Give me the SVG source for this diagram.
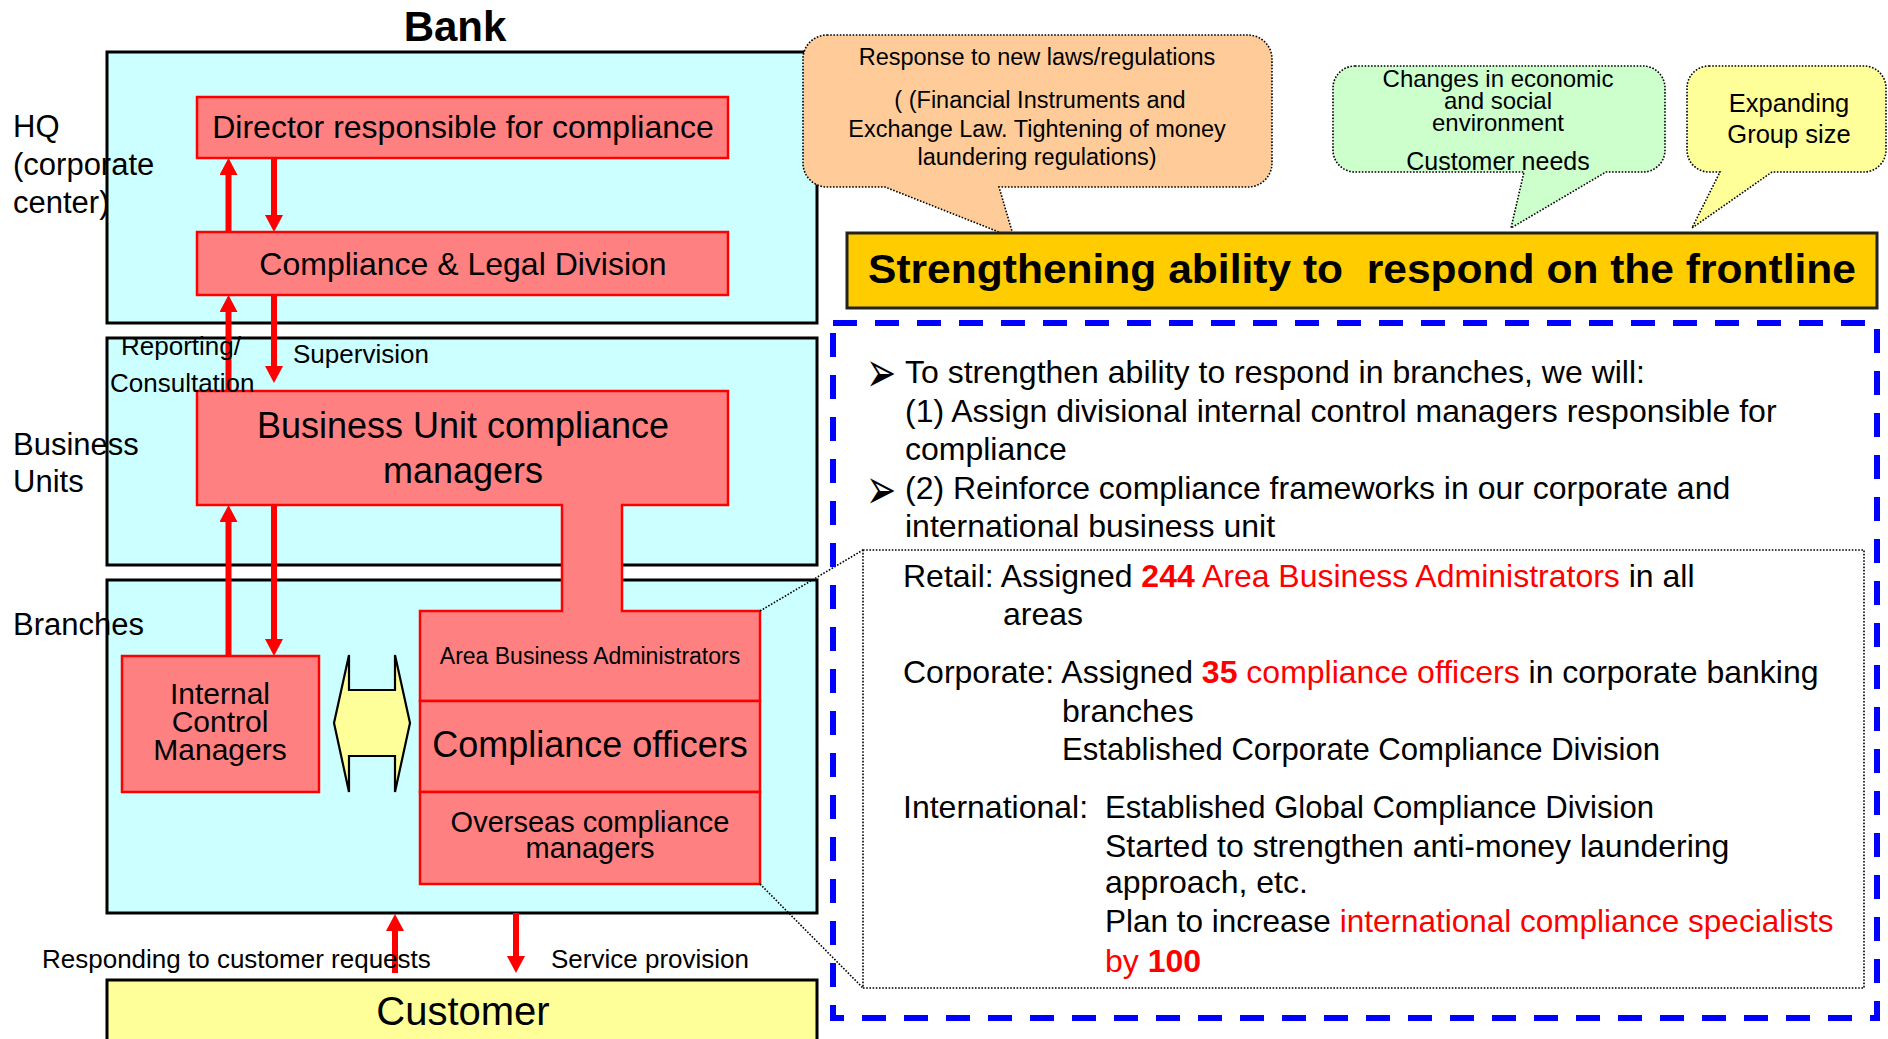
<svg xmlns="http://www.w3.org/2000/svg" width="1888" height="1039" viewBox="0 0 1888 1039">
  <defs>
    <style>
      text { font-family: "Liberation Sans", Arial, sans-serif; fill: #000; }
      .tier { fill: #CCFFFF; stroke: #000; stroke-width: 3; }
      .red { fill: #FF8080; stroke: #FF0000; stroke-width: 2.5; }
      .callout { stroke: #000; stroke-width: 1.6; stroke-dasharray: 1.6 1.6; }
      .arrow { stroke: #FF0000; stroke-width: 6; fill: none; marker-end: url(#ah); }
      .dots { stroke: #000; stroke-width: 1.6; stroke-dasharray: 1.6 1.6; fill: none; }
      .mid { text-anchor: middle; }
      .hi { fill: #FF0000; }
      .b { font-weight: bold; }
      .bullet { font-family: "DejaVu Sans", sans-serif; font-size: 36px; }
    </style>
    <marker id="ah" markerUnits="userSpaceOnUse" markerWidth="17" markerHeight="18" viewBox="0 0 17 18" refX="0" refY="9" orient="auto">
      <path d="M0,0 L17,9 L0,18 Z" fill="#FF0000"/>
    </marker>
  </defs>

  <rect width="1888" height="1039" fill="#FFFFFF"/>

  <!-- Bank tiers -->
  <text class="b mid" x="455" y="41" font-size="42">Bank</text>
  <g id="tier-hq"><rect class="tier" x="107" y="52" width="710" height="271"/></g>
  <g id="tier-bu"><rect class="tier" x="107" y="338" width="710" height="227"/></g>
  <g id="tier-branches"><rect class="tier" x="107" y="580" width="710" height="333"/></g>

  <!-- Customer -->
  <g id="customer">
    <rect x="107" y="980" width="710" height="70" fill="#FFFF99" stroke="#000" stroke-width="3"/>
    <text class="mid" x="463" y="1025" font-size="40">Customer</text>
  </g>

  <!-- HQ nodes -->
  <g id="director">
    <rect class="red" x="197" y="97" width="531" height="61"/>
    <text class="mid" x="463" y="138" font-size="32">Director responsible for compliance</text>
  </g>
  <g id="compliance-legal">
    <rect class="red" x="197" y="232" width="531" height="63"/>
    <text class="mid" x="463" y="275" font-size="32">Compliance &amp; Legal Division</text>
  </g>

  <!-- Business unit managers joined to the area administrators -->
  <g id="bu-managers">
    <path class="red" d="M197,391 H728 V505 H622 V611 H760 V701 H420 V611 H562 V505 H197 Z"/>
    <text class="mid" x="463" y="438" font-size="36">Business Unit compliance</text>
    <text class="mid" x="463" y="483" font-size="36">managers</text>
  </g>
  <g id="area-admins">
    <text class="mid" x="590" y="664" font-size="23">Area Business Administrators</text>
  </g>
  <g id="compliance-officers">
    <rect class="red" x="420" y="701" width="340" height="91"/>
    <text class="mid" x="590" y="757" font-size="36">Compliance officers</text>
  </g>
  <g id="overseas-managers">
    <rect class="red" x="420" y="792" width="340" height="92"/>
    <text class="mid" x="590" y="832" font-size="29">Overseas compliance</text>
    <text class="mid" x="590" y="858" font-size="29">managers</text>
  </g>
  <g id="internal-control">
    <rect class="red" x="122" y="656" width="197" height="136"/>
    <text class="mid" x="220" y="704" font-size="30">Internal</text>
    <text class="mid" x="220" y="732" font-size="30">Control</text>
    <text class="mid" x="220" y="760" font-size="30">Managers</text>
  </g>
  <g id="cooperation">
    <path d="M334,723 L349,655 V690 H395 V655 L410,723 L395,792 V756 H349 V792 Z" fill="#FFFF99" stroke="#000" stroke-width="2.2" stroke-linejoin="miter"/>
  </g>

  <!-- Connectors -->
  <g id="connectors">
    <line class="arrow" x1="228.5" y1="232" x2="228.5" y2="175"/>
    <line class="arrow" x1="274" y1="158" x2="274" y2="215"/>
    <line class="arrow" x1="228.5" y1="391" x2="228.5" y2="312"/>
    <line class="arrow" x1="274" y1="295" x2="274" y2="366"/>
    <line class="arrow" x1="228.5" y1="656" x2="228.5" y2="522"/>
    <line class="arrow" x1="274" y1="505" x2="274" y2="639"/>
    <line class="arrow" x1="395" y1="973" x2="395" y2="931"/>
    <line class="arrow" x1="516" y1="913" x2="516" y2="956"/>
    <line class="dots" x1="760" y1="611" x2="863" y2="550"/>
    <line class="dots" x1="760" y1="884" x2="863" y2="988"/>
  </g>

  <!-- Tier and flow labels -->
  <g id="labels" font-size="31">
    <text x="13" y="137">HQ</text>
    <text x="13" y="175">(corporate</text>
    <text x="13" y="213">center)</text>
    <text x="13" y="455">Business</text>
    <text x="13" y="492">Units</text>
    <text x="13" y="635">Branches</text>
    <text x="121" y="355" font-size="26">Reporting/</text>
    <text x="110" y="392" font-size="26">Consultation</text>
    <text x="293" y="363" font-size="26">Supervision</text>
    <text x="42" y="968" font-size="26">Responding to customer requests</text>
    <text x="551" y="968" font-size="26">Service provision</text>
  </g>

  <!-- Drivers -->
  <g id="driver-laws">
    <path class="callout" fill="#FFCC99" d="M827,35 H1248 A24,24 0 0 1 1272,59 V163 A24,24 0 0 1 1248,187 H999 L1014,238 L885,187 H827 A24,24 0 0 1 803,163 V59 A24,24 0 0 1 827,35 Z"/>
    <text class="mid" x="1037" y="65" font-size="23.5">Response to new laws/regulations</text>
    <text class="mid" x="1040" y="108" font-size="23.5">( (Financial Instruments and</text>
    <text class="mid" x="1037" y="137" font-size="23.5">Exchange Law. Tightening of money</text>
    <text class="mid" x="1037" y="165" font-size="23.5">laundering regulations)</text>
  </g>
  <g id="driver-environment">
    <path class="callout" fill="#CCFFCC" d="M1355,66 H1643 A22,22 0 0 1 1665,88 V150 A22,22 0 0 1 1643,172 H1606 L1511,228 L1524,172 H1355 A22,22 0 0 1 1333,150 V88 A22,22 0 0 1 1355,66 Z"/>
    <text class="mid" x="1498" y="87" font-size="24">Changes in economic</text>
    <text class="mid" x="1498" y="109" font-size="24">and social</text>
    <text class="mid" x="1498" y="131" font-size="24">environment</text>
    <text class="mid" x="1498" y="170" font-size="25">Customer needs</text>
  </g>
  <g id="driver-group">
    <path class="callout" fill="#FFFF99" d="M1709,66 H1864 A22,22 0 0 1 1886,88 V150 A22,22 0 0 1 1864,172 H1772 L1692,228 L1720,172 H1709 A22,22 0 0 1 1687,150 V88 A22,22 0 0 1 1709,66 Z"/>
    <text class="mid" x="1789" y="112" font-size="25.5">Expanding</text>
    <text class="mid" x="1789" y="143" font-size="25.5">Group size</text>
  </g>

  <!-- Headline -->
  <g id="headline">
    <rect x="847" y="233" width="1030" height="75" fill="#FFCC00" stroke="#222" stroke-width="3"/>
    <text class="b" x="868" y="283" font-size="40" textLength="988" lengthAdjust="spacingAndGlyphs">Strengthening ability to&#160; respond on the frontline</text>
  </g>

  <!-- Measures -->
  <g id="measures">
    <rect x="833" y="323" width="1044" height="695" fill="none" stroke="#0000FF" stroke-width="6" stroke-dasharray="24 18"/>
    <text class="bullet" transform="translate(866 392) scale(1 1.6)">➢</text>
    <text x="905" y="383" font-size="32">To strengthen ability to respond in branches, we will:</text>
    <text x="905" y="422" font-size="32">(1) Assign divisional internal control managers responsible for</text>
    <text x="905" y="460" font-size="32">compliance</text>
    <text class="bullet" transform="translate(866 509) scale(1 1.6)">➢</text>
    <text x="905" y="499" font-size="32">(2) Reinforce compliance frameworks in our corporate and</text>
    <text x="905" y="537" font-size="32">international business unit</text>
  </g>
  <g id="results" font-size="32">
    <rect x="863" y="550" width="1001" height="438" fill="none" stroke="#000" stroke-width="1.6" stroke-dasharray="1.6 1.6"/>
    <text x="903" y="587">Retail: Assigned <tspan class="hi b">244</tspan><tspan class="hi"> Area Business Administrators</tspan> in all</text>
    <text x="1003" y="625">areas</text>
    <text x="903" y="683">Corporate: Assigned <tspan class="hi b">35</tspan><tspan class="hi"> compliance officers</tspan> in corporate banking</text>
    <text x="1062" y="722">branches</text>
    <text x="1062" y="760" textLength="598" lengthAdjust="spacingAndGlyphs">Established Corporate Compliance Division</text>
    <text x="903" y="818">International:</text>
    <text x="1105" y="818" textLength="549" lengthAdjust="spacingAndGlyphs">Established Global Compliance Division</text>
    <text x="1105" y="857">Started to strengthen anti-money laundering</text>
    <text x="1105" y="893">approach, etc.</text>
    <text x="1105" y="932" font-size="31.5">Plan to increase <tspan class="hi">international compliance specialists</tspan></text>
    <text x="1105" y="972"><tspan class="hi">by </tspan><tspan class="hi b">100</tspan></text>
  </g>
</svg>
